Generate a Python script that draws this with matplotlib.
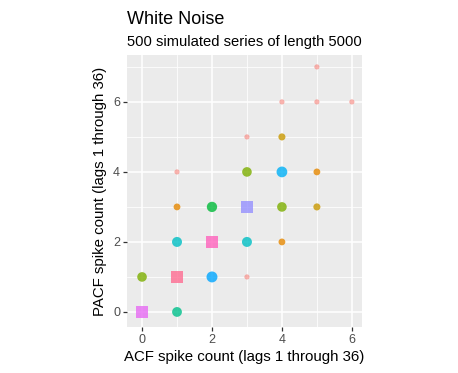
import matplotlib.pyplot as plt
import numpy as np

# spike counts per cell (acf, pacf) and the colour group of each cell
acf = [0, 0, 1, 1, 1, 1, 1, 2, 2, 2, 3, 3, 3, 3, 3, 4, 4, 4, 4, 4, 5, 5, 5, 5, 6]
pacf = [0, 1, 0, 1, 2, 3, 4, 1, 2, 3, 1, 2, 3, 4, 5, 2, 3, 4, 5, 6, 3, 4, 6, 7, 6]
group = ['g11', 'g4', 'g6', 'g13', 'g7', 'g2', 'g1', 'g9', 'g12', 'g5', 'g1', 'g7', 'g10', 'g4',
         'g1', 'g2', 'g4', 'g8', 'g3', 'g1', 'g3', 'g2', 'g1', 'g1', 'g1']

colors = {'g1': '#F8766D', 'g2': '#E58700', 'g3': '#C99800', 'g4': '#7CAE00', 'g5': '#00BA38',
          'g6': '#00C08B', 'g7': '#00BFC4', 'g8': '#00B0F6', 'g9': '#00A5FF', 'g10': '#9590FF',
          'g11': '#E76BF3', 'g12': '#FF62BC', 'g13': '#FF6C91'}
sizes = {'g1': 14, 'g2': 24, 'g3': 26, 'g4': 48, 'g5': 55, 'g6': 50, 'g7': 52, 'g8': 60,
         'g9': 62, 'g10': 78, 'g11': 82, 'g12': 82, 'g13': 82}

plt.rcParams['font.family'] = ['Liberation Sans', 'DejaVu Sans']

fig = plt.figure(figsize=(4.58, 3.73), dpi=100)
ax = fig.add_axes([127/458, 1-327/373, 235/458, 272/373])
ax.set_facecolor('#EBEBEB')

for x, y, g in zip(acf, pacf, group):
    ax.scatter(x, y, s=sizes[g], color=colors[g], alpha=0.8 if g != 'g1' else 0.55,
               edgecolors='none', marker='o' if sizes[g] < 70 else 's', zorder=3)

ax.set_xlim(-0.43, 6.29)
ax.set_ylim(-0.43, 7.34)
ax.set_xticks([0, 2, 4, 6])
ax.set_yticks([0, 2, 4, 6])
ax.set_xticks([1, 3, 5], minor=True)
ax.set_yticks([1, 3, 5, 7], minor=True)
ax.grid(True, which='major', color='white', lw=1.1)
ax.grid(True, which='minor', color='white', lw=0.55)
ax.set_axisbelow(True)
for sp in ax.spines.values():
    sp.set_visible(False)
ax.tick_params(which='major', length=3, width=0.9, color='#333333', labelcolor='#4D4D4D',
               labelsize=9, pad=2)
ax.tick_params(which='minor', length=0)

ax.set_xlabel('ACF spike count (lags 1 through 36)', fontsize=10.8, labelpad=3)
ax.set_ylabel('PACF spike count (lags 1 through 36)', fontsize=10.8, labelpad=4)
fig.text(127/458, 1-24/373, 'White Noise', fontsize=13, ha='left', va='baseline')
fig.text(127/458, 1-46/373, '500 simulated series of length 5000', fontsize=10.6, ha='left', va='baseline')

fig.savefig('out.png', dpi=100)
